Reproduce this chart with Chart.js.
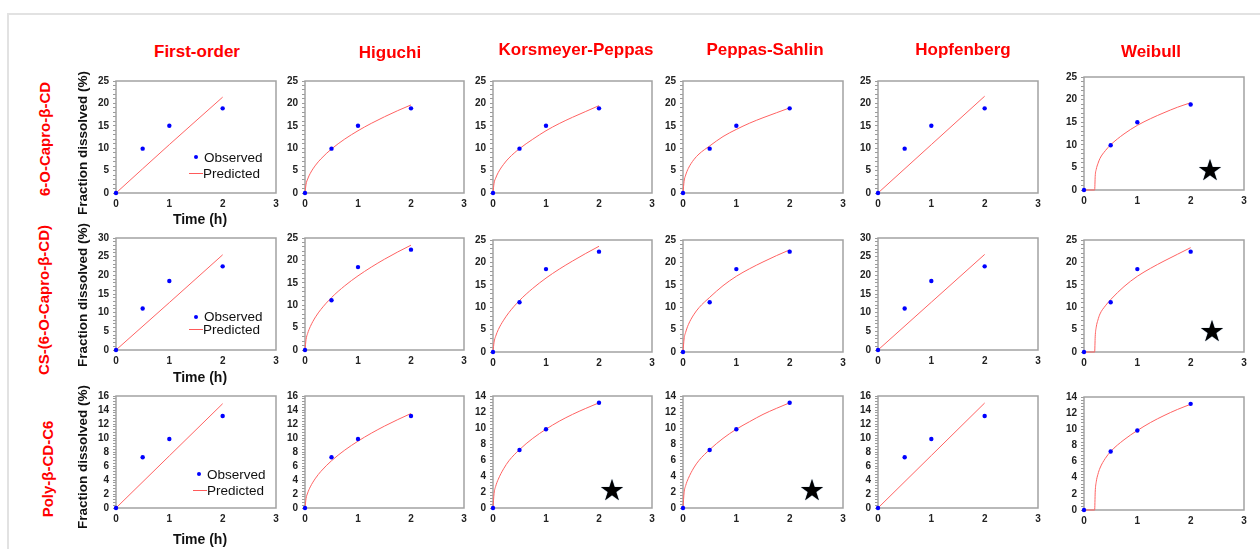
<!DOCTYPE html>
<html>
<head>
<meta charset="utf-8">
<script src="https://cdn.jsdelivr.net/npm/chart.js@4.4.1/dist/chart.umd.min.js"></script>
<style>
  html, body { margin:0; padding:0; background:#fff; }
  body { width:1260px; height:549px; position:relative; overflow:hidden; font-family:"Liberation Sans", Arial, sans-serif; }
  .frame { position:absolute; left:7px; top:13px; right:-10px; bottom:-10px; border-top:2px solid #e2e2e2; border-left:2px solid #e2e2e2; }
  .panel { position:absolute; }
  .coltitle { position:absolute; color:#ff0000; font-weight:bold; font-size:17px; white-space:nowrap; transform:translate(-50%,-50%); }
  .rowlabel { position:absolute; color:#ff0000; font-weight:bold; font-size:15px; white-space:nowrap; transform:translate(-50%,-50%) rotate(-90deg); }
  .ytitle { position:absolute; color:#111; font-weight:bold; font-size:13.5px; white-space:nowrap; transform:translate(-50%,-50%) rotate(-90deg); }
  .xtitle { position:absolute; color:#111; font-weight:bold; font-size:14px; white-space:nowrap; transform:translate(-50%,-50%); }
  .legtext { position:absolute; color:#111; font-size:13.5px; white-space:nowrap; transform:translateY(-50%); }
  .legdot { position:absolute; width:4px; height:4px; background:#0000ff; border-radius:50%; transform:translate(-50%,-50%); }
  .legline { position:absolute; height:0; border-top:1.5px solid #ff5a5a; z-index:5; }
  .star { position:absolute; font-family:"DejaVu Sans"; font-size:29px; line-height:29px; color:#000; transform:translate(-50%,-50%); text-shadow:0 0 1px #5a7da0; }
</style>
</head>
<body>
<div class="frame"></div>
<div id="root"></div>
<script>
// ---------------- DATA ----------------
const columnTitles = ["First-order", "Higuchi", "Korsmeyer-Peppas", "Peppas-Sahlin", "Hopfenberg", "Weibull"];
const rowLabels = ["6-O-Capro-β-CD", "CS-(6-O-Capro-β-CD)", "Poly-β-CD-C6"];
const xTitle = "Time (h)";
const yTitle = "Fraction dissolved (%)";
const legendLabels = ["Observed", "Predicted"];

// observed time points (h)
const obsTime = [0, 0.5, 1, 2];
const obsRow1 = [0, 9.9, 15.0, 18.9];
const obsRow2 = [0, 11.1, 18.5, 22.4];
const obsRow3 = [0, 7.25, 9.85, 13.15];

const linTime = [0, 1, 2];
const curveTime = [0, 0.02, 0.05, 0.1, 0.2, 0.3, 0.5, 0.75, 1, 1.25, 1.5, 1.75, 2];
const weibullTime = [0, 0.2, 0.21, 0.23, 0.26, 0.3, 0.4, 0.5, 0.75, 1, 1.25, 1.5, 1.75, 2];

// Row 1: 6-O-Capro-β-CD
const r1FirstOrder = [0, 10.8, 21.4];
const r1Higuchi    = [0, 1.97, 3.11, 4.40, 6.22, 7.61, 9.83, 12.04, 13.9, 15.54, 17.02, 18.39, 19.66];
const r1Korsmeyer  = [0, 2.2, 3.3, 4.6, 6.4, 7.8, 9.9, 12.0, 13.9, 15.5, 16.9, 18.2, 19.5];
const r1PeppasS    = [0, 2.6, 4.0, 5.5, 7.4, 8.7, 10.5, 12.6, 14.2, 15.6, 16.8, 17.9, 19.0];
const r1Hopfenberg = [0, 10.8, 21.6];
const r1Weibull    = [0, 0, 3.0, 4.6, 5.8, 7.0, 8.7, 10.0, 12.4, 14.3, 15.8, 17.1, 18.3, 19.3];

// Row 2: CS-(6-O-Capro-β-CD)
const r2FirstOrder = [0, 12.7, 25.5];
const r2Higuchi    = [0, 2.34, 3.70, 5.23, 7.40, 9.06, 11.70, 14.33, 16.55, 18.50, 20.27, 21.89, 23.40];
const r2Korsmeyer  = [0, 2.2, 3.5, 5.0, 7.1, 8.8, 11.5, 14.2, 16.5, 18.5, 20.3, 22.0, 23.6];
const r2PeppasS    = [0, 2.9, 4.4, 6.1, 8.3, 9.9, 12.2, 14.8, 16.9, 18.6, 20.1, 21.5, 22.8];
const r2Hopfenberg = [0, 12.8, 25.6];
const r2Weibull    = [0, 0, 3.4, 5.6, 7.1, 8.5, 10.3, 11.7, 14.6, 16.9, 18.7, 20.3, 21.8, 23.3];

// Row 3: Poly-β-CD-C6
const r3FirstOrder = [0, 7.45, 14.9];
const r3Higuchi    = [0, 1.35, 2.14, 3.02, 4.27, 5.23, 6.75, 8.27, 9.55, 10.68, 11.70, 12.63, 13.5];
const r3Korsmeyer  = [0, 1.8, 2.7, 3.6, 4.9, 5.9, 7.3, 8.7, 9.85, 10.85, 11.7, 12.45, 13.15];
const r3PeppasS    = [0, 1.9, 2.8, 3.7, 5.0, 5.95, 7.3, 8.7, 9.85, 10.8, 11.7, 12.45, 13.15];
const r3Hopfenberg = [0, 7.5, 15.0];
const r3Weibull    = [0, 0, 2.2, 3.5, 4.4, 5.2, 6.4, 7.25, 8.7, 9.85, 10.85, 11.7, 12.45, 13.1];

// axis ranges
const xTicks = [0, 1, 2, 3];
const yMaxRow1 = [25, 25, 25, 25, 25, 25];
const yMaxRow2 = [30, 25, 25, 25, 30, 25];
const yMaxRow3 = [16, 16, 14, 14, 16, 14];

// ---------------- LAYOUT (pixel positions of plot areas) ----------------
const colLeft  = [116, 305, 493, 683, 878, 1084];
const colRight = [276, 464, 652, 843, 1038, 1244];
const rowTop    = [[79, 79, 79, 79, 79, 75], [236, 236, 238, 238, 236, 238], [394, 394, 394, 394, 394, 395]];
const rowBottom = [[193, 193, 193, 193, 193, 190], [350, 350, 352, 352, 350, 352], [508, 508, 508, 508, 508, 510]];

const YW = 36, XH = 22, PT = 8, PR = 8;

const obsRows = [obsRow1, obsRow2, obsRow3];
const predRows = [
  [r1FirstOrder, r1Higuchi, r1Korsmeyer, r1PeppasS, r1Hopfenberg, r1Weibull],
  [r2FirstOrder, r2Higuchi, r2Korsmeyer, r2PeppasS, r2Hopfenberg, r2Weibull],
  [r3FirstOrder, r3Higuchi, r3Korsmeyer, r3PeppasS, r3Hopfenberg, r3Weibull]
];
const predTimes = [linTime, curveTime, curveTime, curveTime, linTime, weibullTime];
const yMaxRows = [yMaxRow1, yMaxRow2, yMaxRow3];

const frameBox = {
  id: 'frameBox',
  beforeDatasetsDraw(chart) {
    const a = chart.chartArea, ctx = chart.ctx;
    ctx.save();
    ctx.strokeStyle = '#a2a2a2';
    ctx.lineWidth = 1.5;
    ctx.strokeRect(a.left, a.top, a.right - a.left, a.bottom - a.top);
    ctx.restore();
  }
};

const tickFont = { family: "'Liberation Sans', Arial, sans-serif", size: 10, weight: 'bold' };
const root = document.getElementById('root');

function toPts(xs, ys) { return xs.map((x, i) => ({ x: x, y: ys[i] })); }

for (let r = 0; r < 3; r++) {
  for (let c = 0; c < 6; c++) {
    const left = colLeft[c], right = colRight[c];
    const top = rowTop[r][c], bottom = rowBottom[r][c];
    const w = (right - left) + YW + PR;
    const h = (bottom - top) + PT + XH;
    const div = document.createElement('div');
    div.className = 'panel';
    div.style.left = (left - YW) + 'px';
    div.style.top = (top - PT) + 'px';
    div.style.width = w + 'px';
    div.style.height = h + 'px';
    const cv = document.createElement('canvas');
    cv.width = w; cv.height = h;
    cv.style.width = w + 'px'; cv.style.height = h + 'px';
    div.appendChild(cv);
    root.appendChild(div);

    const ymax = yMaxRows[r][c];
    const major = ymax > 20 ? 5 : 2;
    const minor = ymax > 20 ? 1 : 0.4;

    new Chart(cv.getContext('2d'), {
      type: 'scatter',
      data: {
        datasets: [
          {
            label: legendLabels[0],
            data: toPts(obsTime, obsRows[r]),
            showLine: false,
            pointRadius: 2.2,
            pointBackgroundColor: '#0000ff',
            pointBorderWidth: 0,
            clip: false,
            order: 1
          },
          {
            label: legendLabels[1],
            data: toPts(predTimes[c], predRows[r][c]),
            showLine: true,
            borderColor: '#ff6262',
            borderWidth: 1,
            pointRadius: 0,
            cubicInterpolationMode: 'monotone',
            fill: false,
            clip: 2,
            order: 2
          }
        ]
      },
      options: {
        responsive: false,
        animation: false,
        events: [],
        devicePixelRatio: 1,
        layout: { padding: { top: PT, right: PR, left: 0, bottom: 0 } },
        plugins: { legend: { display: false }, tooltip: { enabled: false } },
        scales: {
          x: {
            type: 'linear', min: xTicks[0], max: xTicks[xTicks.length - 1],
            afterBuildTicks(s) { s.ticks = xTicks.map(v => ({ value: v })); },
            ticks: { font: tickFont, color: '#222', padding: 5, maxRotation: 0, autoSkip: false },
            grid: { display: false, drawTicks: false, tickLength: 0 },
            border: { display: false },
            afterFit(s) { s.height = XH; }
          },
          y: {
            type: 'linear', min: 0, max: ymax,
            ticks: {
              stepSize: minor, autoSkip: false, font: tickFont, color: '#222', padding: 4,
              callback: v => (Math.abs(v / major - Math.round(v / major)) < 1e-6 ? String(Math.round(v)) : '')
            },
            grid: { drawOnChartArea: false, drawTicks: true, tickLength: 3, color: '#9a9a9a', lineWidth: 1 },
            border: { display: false },
            afterFit(s) { s.width = YW; }
          }
        }
      },
      plugins: [frameBox]
    });
  }
}

// ---------------- TEXT ----------------
function addText(cls, text, x, y) {
  const d = document.createElement('div');
  d.className = cls;
  d.textContent = text;
  d.style.left = x + 'px';
  d.style.top = y + 'px';
  root.appendChild(d);
  return d;
}
const colTitlePos = [[197, 52], [390, 53], [576, 50], [765, 50], [963, 50], [1151, 52]];
columnTitles.forEach((t, i) => addText('coltitle', t, colTitlePos[i][0], colTitlePos[i][1]));
const rowLabelPos = [[44, 139], [43, 300], [47, 469]];
rowLabels.forEach((t, i) => addText('rowlabel', t, rowLabelPos[i][0], rowLabelPos[i][1]));
const yTitlePos = [[82, 143], [82, 295], [82, 457]];
yTitlePos.forEach(p => addText('ytitle', yTitle, p[0], p[1]));
const xTitlePos = [[200, 219], [200, 377], [200, 539]];
xTitlePos.forEach(p => addText('xtitle', xTitle, p[0], p[1]));

// legends inside the first-column panels
const legPos = [
  { dot: [196, 157], obsX: 204, obsY: 157, lineX: 189, lineW: 14, predY: 173, predX: 203 },
  { dot: [196, 317], obsX: 204, obsY: 316, lineX: 189, lineW: 14, predY: 329, predX: 203 },
  { dot: [199, 474], obsX: 207, obsY: 474, lineX: 193, lineW: 14, predY: 490, predX: 207 }
];
legPos.forEach(p => {
  addText('legdot', '', p.dot[0], p.dot[1]);
  addText('legtext', legendLabels[0], p.obsX, p.obsY);
  addText('legtext', legendLabels[1], p.predX, p.predY);
  const ln = addText('legline', '', p.lineX, p.predY);
  ln.style.width = p.lineW + 'px';
});

// stars marking best-fit models
const starPos = [[1210, 170], [1212, 331], [612, 490], [812, 490]];
starPos.forEach(p => addText('star', '★', p[0], p[1]));
</script>
</body>
</html>
